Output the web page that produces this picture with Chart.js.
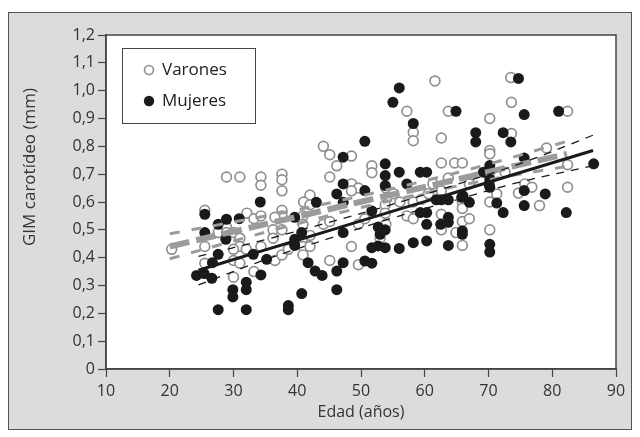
<!DOCTYPE html>
<html>
<head>
<meta charset="utf-8">
<script src="https://cdn.jsdelivr.net/npm/chart.js@4.4.1/dist/chart.umd.min.js"></script>
<style>
html, body { margin: 0; padding: 0; background: #fff; }
</style>
</head>
<body>
<canvas id="gimChart" width="640" height="437"></canvas>
<script>
// Varones (hollow gray circles)
var varonesEdad = [20.3, 25.5, 25.5, 25.5, 27.6, 28.9, 31.0, 34.3, 34.3, 28.9, 28.9, 30.0, 31.0, 31.0, 30.0, 32.0, 34.3, 30.0, 31.0, 30.0,
  33.2, 32.1, 33.2, 34.3, 36.2, 36.2, 37.6, 37.6, 37.6, 37.6, 37.6, 36.5, 36.5, 37.6, 38.6, 37.6, 40.9, 40.9, 40.9, 40.9,
  40.9, 42.0, 42.0, 42.0, 41.0, 42.0, 44.1, 45.1, 48.5, 46.2, 45.1, 51.7, 51.7, 48.5, 49.6, 48.5, 44.1, 45.1, 48.5, 49.6,
  50.6, 45.1, 49.6, 53.0, 53.9, 53.8, 53.8, 53.9, 55.1, 56.1, 58.2, 59.5, 60.6, 62.6, 57.2, 58.2, 62.6, 62.6, 65.9, 65.9,
  65.9, 67.0, 64.9, 65.9, 70.2, 70.2, 61.6, 57.2, 63.7, 70.2, 58.2, 58.2, 62.6, 70.2, 70.2, 62.6, 64.7, 65.9, 63.7, 61.3,
  67.0, 70.2, 73.5, 73.6, 82.4, 73.6, 79.1, 82.4, 72.6, 75.7, 76.8, 74.7, 71.3, 82.4, 78.0];
var varonesGim = [0.43, 0.57, 0.44, 0.38, 0.49, 0.69, 0.69, 0.69, 0.66, 0.51, 0.49, 0.49, 0.47, 0.44, 0.43, 0.43, 0.44, 0.39, 0.38, 0.33,
  0.35, 0.56, 0.54, 0.55, 0.50, 0.47, 0.70, 0.68, 0.64, 0.57, 0.55, 0.545, 0.39, 0.41, 0.43, 0.50, 0.55, 0.52, 0.47, 0.44,
  0.41, 0.48, 0.44, 0.625, 0.60, 0.59, 0.80, 0.77, 0.765, 0.73, 0.69, 0.73, 0.705, 0.665, 0.65, 0.64, 0.52, 0.53, 0.44, 0.52,
  0.54, 0.39, 0.375, 0.47, 0.65, 0.59, 0.56, 0.52, 0.63, 0.60, 0.60, 0.61, 0.63, 0.64, 0.55, 0.54, 0.556, 0.50, 0.60, 0.577,
  0.53, 0.54, 0.49, 0.444, 0.60, 0.50, 1.035, 0.926, 0.926, 0.90, 0.85, 0.82, 0.83, 0.785, 0.773, 0.74, 0.74, 0.74, 0.686, 0.665,
  0.665, 0.707, 1.047, 0.958, 0.926, 0.846, 0.794, 0.734, 0.707, 0.665, 0.653, 0.632, 0.629, 0.653, 0.587];

// Mujeres (filled black circles)
var mujeresEdad = [34.2, 25.5, 28.9, 30.9, 27.6, 25.5, 28.8, 27.6, 35.2, 24.2, 25.4, 26.6, 34.3, 32.0, 32.0, 29.9, 29.9, 27.6, 32.0, 33.1,
  26.7, 50.6, 47.2, 47.2, 46.2, 47.2, 43.0, 50.6, 53.8, 53.8, 53.8, 51.7, 39.6, 40.7, 39.6, 39.6, 47.2, 52.7, 53.0, 51.7,
  52.7, 53.8, 41.7, 42.8, 43.9, 46.2, 47.2, 50.6, 51.7, 40.7, 46.2, 38.6, 38.6, 56.0, 55.0, 64.9, 58.2, 68.0, 68.0, 56.0,
  59.3, 60.3, 57.2, 70.2, 70.2, 70.1, 70.2, 61.8, 62.6, 63.7, 66.0, 67.0, 53.8, 59.3, 60.3, 63.7, 63.7, 60.3, 62.5, 65.9,
  65.9, 56.0, 58.2, 60.3, 63.7, 70.2, 70.2, 74.7, 75.6, 81.0, 72.3, 73.5, 75.6, 86.5, 75.6, 78.9, 71.3, 75.6, 72.3, 82.2,
  69.2, 65.8];
var mujeresGim = [0.60, 0.556, 0.538, 0.54, 0.52, 0.49, 0.466, 0.412, 0.394, 0.336, 0.343, 0.326, 0.338, 0.312, 0.285, 0.285, 0.259, 0.213, 0.213, 0.412,
  0.382, 0.818, 0.761, 0.665, 0.629, 0.599, 0.599, 0.641, 0.737, 0.695, 0.659, 0.568, 0.545, 0.49, 0.466, 0.444, 0.49, 0.51, 0.484, 0.436,
  0.442, 0.436, 0.382, 0.352, 0.336, 0.352, 0.382, 0.388, 0.38, 0.271, 0.285, 0.228, 0.213, 1.01, 0.958, 0.926, 0.882, 0.849, 0.816, 0.707,
  0.707, 0.707, 0.665, 0.731, 0.683, 0.665, 0.653, 0.608, 0.608, 0.608, 0.622, 0.599, 0.50, 0.562, 0.562, 0.545, 0.527, 0.52, 0.52, 0.496,
  0.484, 0.433, 0.454, 0.46, 0.444, 0.448, 0.42, 1.044, 0.914, 0.926, 0.849, 0.816, 0.758, 0.737, 0.641, 0.629, 0.596, 0.587, 0.562, 0.562,
  0.707, 0.617];

// regression lines with confidence bands
var varonesLineEdad = [20, 30, 40, 50, 60, 70, 82.3];
var varonesLine = [0.440, 0.494, 0.547, 0.601, 0.654, 0.708, 0.773];
var varonesUpper = [0.486, 0.528, 0.572, 0.622, 0.676, 0.736, 0.818];
var varonesLower = [0.396, 0.460, 0.522, 0.580, 0.632, 0.680, 0.728];

var mujeresLineEdad = [24.5, 35, 45, 55, 65, 75, 86.4];
var mujeresLine = [0.355, 0.428, 0.497, 0.567, 0.636, 0.706, 0.785];
var mujeresUpper = [0.405, 0.465, 0.527, 0.592, 0.663, 0.738, 0.840];
var mujeresLower = [0.302, 0.393, 0.469, 0.543, 0.608, 0.672, 0.730];

var xTicks = [10, 20, 30, 40, 50, 60, 70, 80, 90];
var yTickLabels = ["0", "0,1", "0,2", "0,3", "0,4", "0,5", "0,6", "0,7", "0,8", "0,9", "1,0", "1,1", "1,2"];
var seriesNames = ["Varones", "Mujeres"];

function pts(xs, ys) {
  return xs.map(function (x, i) { return { x: x, y: ys[i] }; });
}

var gray = "#8f8f8f";
var lineGray = "#9b9b9b";
var black = "#1a1a1a";
var font = "'Open Sans', 'Liberation Sans', sans-serif";

function lineSet(xs, ys, color, width, dash, order) {
  return {
    type: "line",
    data: pts(xs, ys),
    borderColor: color,
    borderWidth: width,
    borderDash: dash,
    pointRadius: 0,
    fill: false,
    tension: 0.4,
    order: order
  };
}

var framePlugin = {
  id: "frame",
  beforeDraw: function (chart) {
    var c = chart.ctx, a = chart.chartArea;
    c.save();
    c.fillStyle = "#ffffff";
    c.fillRect(0, 0, chart.width, chart.height);
    c.fillStyle = "#dcdcdd";
    c.fillRect(8.5, 12.5, 623, 417);
    c.strokeStyle = "#555";
    c.lineWidth = 1;
    c.strokeRect(8.5, 12.5, 623, 417);
    c.fillStyle = "#ffffff";
    c.fillRect(a.left, a.top, a.right - a.left, a.bottom - a.top);
    c.restore();
  },
  afterDraw: function (chart) {
    var c = chart.ctx, a = chart.chartArea;
    c.save();
    c.strokeStyle = "#444";
    c.lineWidth = 1.5;
    c.strokeRect(a.left, a.top, a.right - a.left, a.bottom - a.top);

    // y axis title
    c.fillStyle = "#333";
    c.font = "17px " + font;
    c.textAlign = "center";
    c.textBaseline = "middle";
    c.translate(30, 167);
    c.rotate(-Math.PI / 2);
    c.fillText("GIM carotídeo (mm)", 0, 0);
    c.restore();

    // legend box
    c.save();
    c.fillStyle = "#fff";
    c.fillRect(122.5, 48.5, 133, 75);
    c.strokeStyle = "#444";
    c.lineWidth = 1;
    c.strokeRect(122.5, 48.5, 133, 75);
    c.beginPath();
    c.arc(149, 70, 4.5, 0, Math.PI * 2);
    c.strokeStyle = gray;
    c.lineWidth = 1.7;
    c.stroke();
    c.beginPath();
    c.arc(149, 101, 5.2, 0, Math.PI * 2);
    c.fillStyle = black;
    c.fill();
    c.fillStyle = "#222";
    c.font = "17px " + font;
    c.textAlign = "left";
    c.textBaseline = "middle";
    c.fillText(seriesNames[0], 162, 70);
    c.fillText(seriesNames[1], 162, 101);
    c.restore();
  }
};

new Chart(document.getElementById("gimChart"), {
  type: "scatter",
  data: {
    datasets: [
      lineSet(mujeresLineEdad, mujeresLine, black, 3, [], 1),
      lineSet(mujeresLineEdad, mujeresUpper, black, 1.3, [8, 7], 2),
      lineSet(mujeresLineEdad, mujeresLower, black, 1.3, [8, 7], 2),
      lineSet(varonesLineEdad, varonesLine, lineGray, 6, [20, 7], 3),
      lineSet(varonesLineEdad, varonesUpper, lineGray, 3, [10, 12], 4),
      lineSet(varonesLineEdad, varonesLower, lineGray, 3, [10, 12], 4),
      {
        label: seriesNames[1],
        data: pts(mujeresEdad, mujeresGim),
        pointRadius: 5.5,
        pointBackgroundColor: black,
        pointBorderWidth: 0,
        order: 5
      },
      {
        label: seriesNames[0],
        data: pts(varonesEdad, varonesGim),
        pointRadius: 4.9,
        pointBackgroundColor: "#fff",
        pointBorderColor: gray,
        pointBorderWidth: 1.7,
        order: 6
      }
    ]
  },
  options: {
    responsive: false,
    animation: false,
    layout: { padding: { top: 35, right: 24, left: 0, bottom: 0 } },
    plugins: { legend: { display: false }, tooltip: { enabled: false } },
    scales: {
      x: {
        type: "linear",
        min: 10, max: 90,
        afterFit: function (s) { s.height = 68; },
        afterBuildTicks: function (s) { s.ticks = xTicks.map(function (v) { return { value: v }; }); },
        grid: { drawOnChartArea: false, tickLength: 8, color: "#444", tickWidth: 1.2 },
        border: { color: "#444", width: 1.5 },
        ticks: { color: "#333", font: { family: font, size: 16 }, padding: 5 },
        title: { display: true, text: "Edad (años)", color: "#333", font: { family: font, size: 16 }, padding: { top: 0, bottom: 15 } }
      },
      y: {
        min: 0, max: 1.2,
        afterFit: function (s) { s.width = 106; },
        ticks: {
          stepSize: 0.1,
          color: "#333",
          font: { family: font, size: 16 },
          padding: 3,
          callback: function (v) { return yTickLabels[Math.round(v * 10)]; }
        },
        grid: { drawOnChartArea: false, tickLength: 8, color: "#444", tickWidth: 1.2 },
        border: { color: "#444", width: 1.5 }
      }
    }
  },
  plugins: [framePlugin]
});
</script>
</body>
</html>
